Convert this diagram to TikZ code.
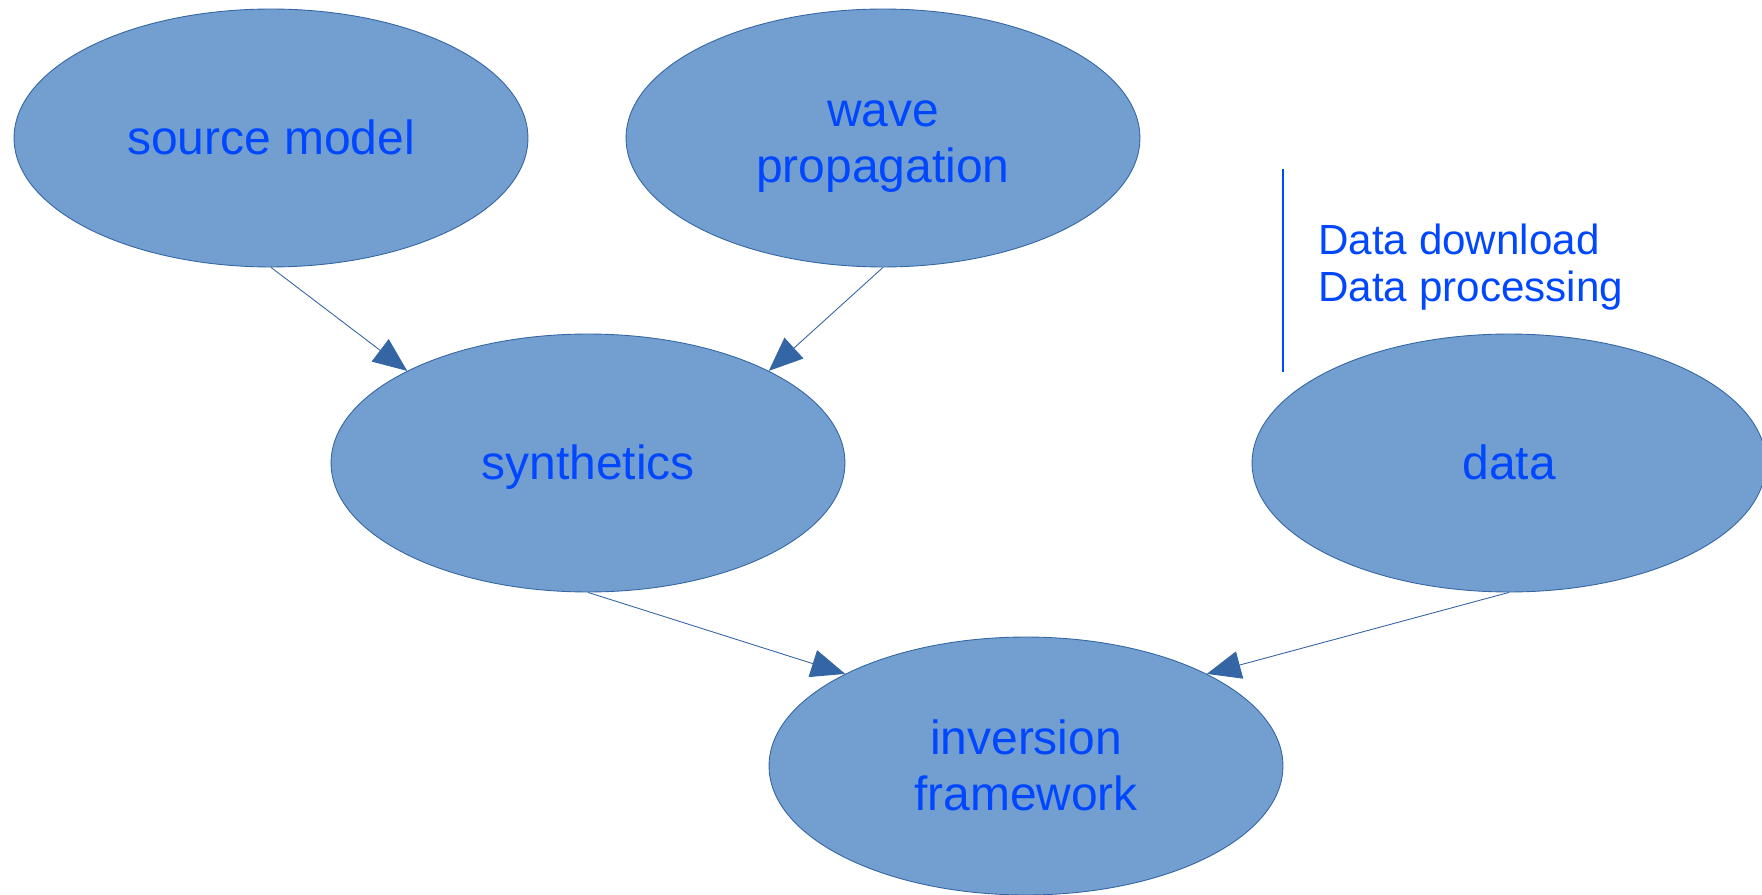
\documentclass[tikz,border=0pt]{standalone}
\usepackage{fontspec}
\setmainfont{Liberation Sans}
\usetikzlibrary{arrows.meta,shapes.geometric}
\definecolor{blobfill}{HTML}{729FCF}
\definecolor{blobline}{HTML}{3465A4}
\definecolor{labelblue}{HTML}{0047FF}
\newcommand\linestrut{\rule[-0.212em]{0pt}{1.117em}}
\tikzset{
	blob/.style={ellipse, draw=blobline, fill=blobfill, line width=0.5pt, inner sep=0pt,
		minimum width=10.28cm, minimum height=5.16cm, align=center, text=labelblue,
		font=\fontsize{27.3}{30.4}\selectfont},
	flow/.style={draw=blobline, line width=0.5pt,
		-{Triangle[length=0.68cm,width=0.56cm,fill=blobline]}},
}
\begin{document}
\begin{tikzpicture}[x=0.02cm,y=0.02cm, line join=round]
		\useasboundingbox (0,0) rectangle (1762,894);
		\node[blob] (src) at (271,756) {\linestrut source model};
		\node[blob] (wave) at (883,756) {\linestrut wave\\\linestrut propagation};
		\node[blob] (syn) at (588,431) {\linestrut synthetics};
		\node[blob] (dat) at (1509,431) {\linestrut data};
		\node[blob] (inv) at (1026,128) {\linestrut inversion\\\linestrut framework};
		\draw[flow] (src.south) -- (syn.153);
		\draw[flow] (wave.south) -- (syn.27);
		\draw[flow] (syn.south) -- (inv.153);
		\draw[flow] (dat.south) -- (inv.27);
		% preprocessing note beside the data
		\coordinate (bartop) at (1283,725);
		\coordinate (barbot) at (1283,522);
		\draw[labelblue, line width=1.6pt] (bartop) -- (barbot);
		\node[anchor=west, inner sep=0pt, align=left, text=labelblue,
			font=\fontsize{24}{26.7}\selectfont] (prep) at (1318,627)
			{Data download\\Data processing};
	\end{tikzpicture}
\end{document}
